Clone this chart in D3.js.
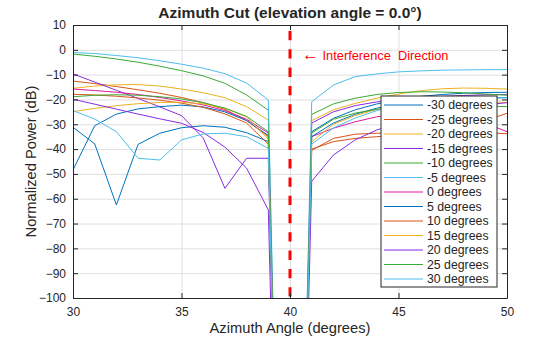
<!DOCTYPE html>
<html>
<head>
<meta charset="utf-8">
<script src="https://cdn.jsdelivr.net/npm/d3@7"></script>
<style>
    body { margin: 0; background: #fff; }
    svg text { font-family: "Liberation Sans", Arial, sans-serif; fill: #262626; }
</style>
</head>
<body>
<svg id="chart" width="560" height="337"></svg>
<script>
// azimuth samples (degrees); 40 is the interference null
var azimuth = [30, 31, 32, 33, 34, 35, 36, 37, 38, 39, 40, 41, 42, 43, 44, 45, 46, 47, 48, 49, 50];

var seriesNames = ["-30 degrees", "-25 degrees", "-20 degrees", "-15 degrees", "-10 degrees", "-5 degrees",
    "0 degrees", "5 degrees", "10 degrees", "15 degrees", "20 degrees", "25 degrees", "30 degrees"];

var pM30 = [-31.2, -37.9, -62.5, -38.1, -33.6, -31.4, -30.6, -31.2, -33.4, -37.0, -400, -33.0, -27.6, -24.2, -21.8, -20.0, -18.8, -18.0, -17.5, -17.2, -17.1];
var pM25 = [-12.6, -13.6, -14.8, -16.1, -17.5, -19.2, -21.3, -24.0, -28.5, -35.0, -400, -40.5, -35.7, -34.0, -33.6, -33.5, -33.3, -32.5, -31.0, -28.5, -25.6];
var pM20 = [-15.5, -14.6, -14.1, -14.0, -14.6, -15.8, -17.3, -19.3, -22.9, -28.3, -400, -28.5, -24.2, -21.6, -19.5, -17.8, -16.5, -15.7, -15.4, -15.5, -15.8];
var pM15 = [-9.7, -13.0, -16.3, -19.6, -23.0, -26.5, -35.5, -55.8, -43.7, -43.7, -400, -29.5, -25.0, -22.5, -21.0, -20.0, -19.3, -18.8, -18.4, -18.1, -18.0];
var pM10 = [-1.7, -2.6, -3.7, -5.0, -6.6, -8.4, -10.5, -13.5, -18.2, -24.3, -400, -26.0, -21.8, -19.5, -18.0, -17.2, -16.9, -17.0, -17.3, -17.8, -18.3];
var pM5 = [-1.1, -1.5, -2.3, -3.2, -4.4, -5.8, -7.4, -9.6, -13.4, -20.2, -400, -20.9, -14.2, -10.8, -9.7, -8.9, -8.5, -8.2, -8.1, -8.0, -8.0];
var p0 = [-15.8, -16.4, -17.1, -18.0, -19.2, -20.6, -22.2, -24.5, -28.0, -33.5, -400, -35.0, -31.6, -29.0, -27.0, -26.0, -25.5, -25.8, -27.0, -29.5, -33.0];
var p5 = [-48.4, -30.6, -25.9, -23.8, -22.9, -22.3, -23.0, -25.0, -28.5, -34.5, -400, -35.0, -29.5, -26.0, -23.5, -21.8, -20.6, -19.8, -19.4, -19.3, -19.3];
var p10 = [-17.9, -18.2, -18.7, -19.4, -20.3, -21.5, -23.2, -25.8, -29.5, -38.0, -400, -40.0, -37.0, -35.7, -35.0, -34.5, -34.0, -33.7, -33.5, -33.5, -33.8];
var p15 = [-24.9, -23.6, -22.5, -21.7, -21.2, -21.1, -21.8, -23.5, -27.0, -36.0, -400, -37.0, -30.0, -26.5, -24.0, -22.5, -21.5, -21.0, -20.8, -20.9, -21.2];
var p20 = [-19.9, -21.9, -23.9, -25.9, -27.8, -29.6, -33.3, -39.2, -47.7, -64.5, -400, -53.0, -42.4, -36.3, -32.3, -29.5, -27.2, -25.2, -23.5, -22.2, -21.3];
var p25 = [-18.9, -18.3, -18.1, -18.3, -18.9, -19.8, -21.3, -23.5, -26.8, -33.0, -400, -33.5, -28.0, -25.5, -24.0, -23.2, -22.8, -22.6, -22.6, -22.7, -22.9];
var p30 = [-24.5, -27.9, -33.0, -43.7, -44.4, -36.3, -33.9, -33.6, -35.0, -39.7, -400, -38.0, -31.5, -27.5, -24.5, -22.5, -21.2, -20.3, -19.8, -19.5, -19.3];

var xTicks = [30, 35, 40, 45, 50];
var yTicks = [10, 0, -10, -20, -30, -40, -50, -60, -70, -80, -90, -100];
var interferenceAz = [40];

var powers = [pM30, pM25, pM20, pM15, pM10, pM5, p0, p5, p10, p15, p20, p25, p30];
var colors = ["#0072BD", "#D95319", "#EDB120", "#8A2BE2", "#3BAA32", "#4DBEEE", "#DD1AA0",
    "#0072BD", "#D95319", "#EDB120", "#8A2BE2", "#3BAA32", "#4DBEEE"];

var svg = d3.select("#chart");
var margin = { top: 25, right: 53, bottom: 39, left: 73 };
var width = +svg.attr("width") - margin.left - margin.right;
var height = +svg.attr("height") - margin.top - margin.bottom;

var xScale = d3.scaleLinear().domain([30, 50]).range([0, width]);
var yScale = d3.scaleLinear().domain([-100, 10]).range([height, 0]);

var g = svg.append("g")
    .attr("transform", "translate(" + margin.left + "," + margin.top + ")");

g.append("clipPath").attr("id", "plot-clip")
    .append("rect").attr("width", width).attr("height", height);

// grid
var xAxis = d3.axisBottom(xScale).tickValues(xTicks).tickSizeInner(-height).tickSizeOuter(0).tickFormat("");
var yAxis = d3.axisLeft(yScale).tickValues(yTicks).tickSizeInner(-width).tickSizeOuter(0).tickFormat("");

g.append("g").attr("class", "grid").attr("transform", "translate(0," + height + ")").call(xAxis);
g.append("g").attr("class", "grid").call(yAxis);
g.selectAll(".grid .domain").remove();
g.selectAll(".grid line").attr("stroke", "#dfdfdf").attr("stroke-width", 1);

// data lines
var valueline = d3.line()
    .x(function (d, i) { return xScale(azimuth[i]); })
    .y(function (d) { return yScale(d); });

var plot = g.append("g").attr("clip-path", "url(#plot-clip)");

plot.selectAll(".series")
    .data(powers)
    .enter().append("path")
    .attr("class", "series")
    .attr("fill", "none")
    .attr("stroke", function (d, i) { return colors[i]; })
    .attr("stroke-width", 1)
    .attr("d", valueline);

// interference marker
plot.selectAll(".interf")
    .data(interferenceAz)
    .enter().append("line")
    .attr("class", "interf")
    .attr("x1", function (d) { return xScale(d); })
    .attr("x2", function (d) { return xScale(d); })
    .attr("y1", yScale(10))
    .attr("y2", yScale(-100))
    .attr("stroke", "#ff0000")
    .attr("stroke-width", 3)
    .attr("stroke-dasharray", "9.3,9")
    .attr("stroke-dashoffset", -6);

var note = g.append("text")
    .attr("x", xScale(40) + 12)
    .attr("y", yScale(-4))
    .style("font-size", "12.8px")
    .style("fill", "#ff0000")
    .attr("xml:space", "preserve");
note.append("tspan").style("font-size", "17px").text("\u2190");
note.append("tspan").text(" Interference  Direction");

// axes box with inward ticks
var axisColor = "#262626";
var xTickAxis = d3.axisBottom(xScale).tickValues(xTicks).tickSizeInner(-5).tickSizeOuter(0).tickPadding(9);
var yTickAxis = d3.axisLeft(yScale).tickValues(yTicks).tickSizeInner(-5).tickSizeOuter(0).tickPadding(7);

var gx = g.append("g").attr("transform", "translate(0," + height + ")").call(xTickAxis);
var gy = g.append("g").call(yTickAxis);
g.append("g").call(d3.axisTop(xScale).tickValues(xTicks).tickSizeInner(-5).tickSizeOuter(0).tickFormat(""));
g.append("g").attr("transform", "translate(" + width + ",0)")
    .call(d3.axisRight(yScale).tickValues(yTicks).tickSizeInner(-5).tickSizeOuter(0).tickFormat(""));

g.selectAll(".domain").attr("stroke", axisColor);
g.selectAll(".tick line").filter(function () { return !this.closest(".grid"); }).attr("stroke", axisColor);
gx.selectAll("text").style("font-size", "12px").style("fill", axisColor);
gy.selectAll("text").style("font-size", "12px").style("fill", axisColor);

// titles
svg.append("text")
    .attr("x", margin.left + width / 2)
    .attr("y", 18)
    .attr("text-anchor", "middle")
    .style("font-size", "15.5px")
    .style("font-weight", "bold")
    .text("Azimuth Cut (elevation angle = 0.0\u00b0)");

svg.append("text")
    .attr("x", margin.left + width / 2)
    .attr("y", 333)
    .attr("text-anchor", "middle")
    .style("font-size", "14.7px")
    .text("Azimuth Angle (degrees)");

svg.append("text")
    .attr("transform", "translate(36," + (margin.top + height / 2) + ") rotate(-90)")
    .attr("text-anchor", "middle")
    .style("font-size", "14.7px")
    .text("Normalized Power (dB)");

// legend
var legend = svg.append("g").attr("transform", "translate(381,96)");
var rowH = 14.5;

legend.append("rect")
    .attr("width", 116)
    .attr("height", 191)
    .attr("fill", "#fff")
    .attr("stroke", axisColor)
    .attr("stroke-width", 1);

var rows = legend.selectAll(".legend-row")
    .data(seriesNames)
    .enter().append("g")
    .attr("class", "legend-row")
    .attr("transform", function (d, i) { return "translate(0," + (9 + i * rowH) + ")"; });

rows.append("line")
    .attr("x1", 3).attr("x2", 42)
    .attr("stroke", function (d, i) { return colors[i]; })
    .attr("stroke-width", 1);

rows.append("text")
    .attr("x", 46)
    .attr("dy", "0.35em")
    .style("font-size", "12.3px")
    .text(function (d) { return d; });
</script>
</body>
</html>
